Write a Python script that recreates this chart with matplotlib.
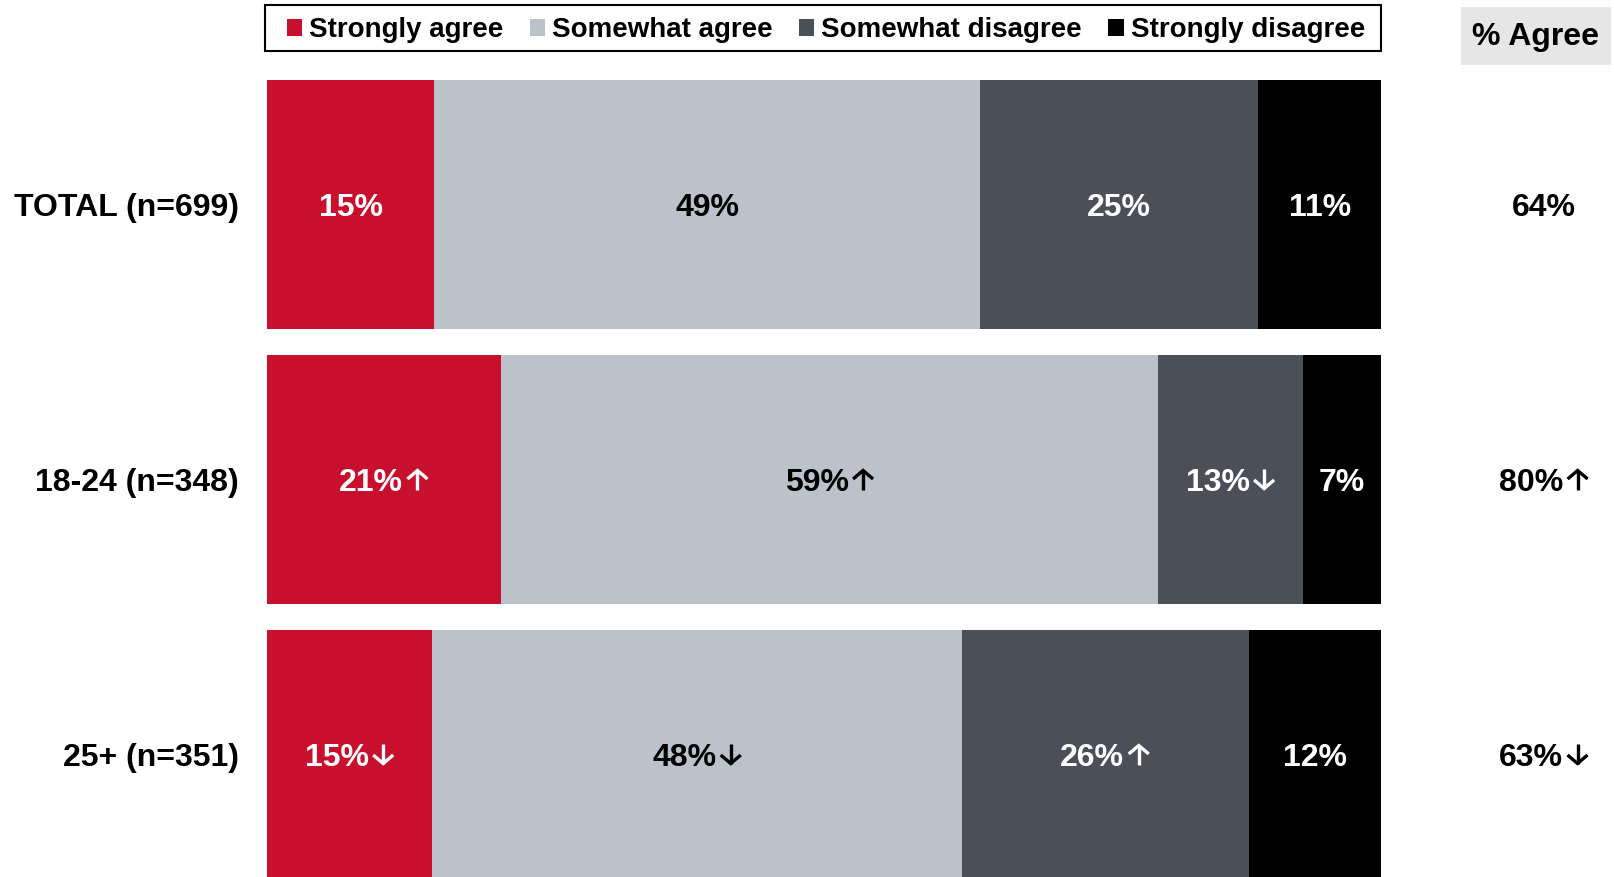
import numpy as np
import matplotlib.pyplot as plt
from matplotlib.lines import Line2D
from matplotlib.patches import Patch, Rectangle
from matplotlib.transforms import IdentityTransform, blended_transform_factory

plt.rcParams["font.family"] = ["Liberation Sans", "DejaVu Sans"]
plt.rcParams["font.weight"] = "bold"

# Survey results, in percent
groups = ["TOTAL (n=699)", "18-24 (n=348)", "25+ (n=351)"]
series = ["Strongly agree", "Somewhat agree", "Somewhat disagree", "Strongly disagree"]
strongly_agree = [15, 21, 15]
somewhat_agree = [49, 59, 48]
somewhat_disagree = [25, 13, 26]
strongly_disagree = [11, 7, 12]
agree_total = [64, 80, 63]

# significance vs the other group: +1 up arrow, -1 down arrow, 0 none
strongly_agree_sig = [0, 1, -1]
somewhat_agree_sig = [0, 1, -1]
somewhat_disagree_sig = [0, -1, 1]
strongly_disagree_sig = [0, 0, 0]
agree_sig = [0, 1, -1]

colors = ["#C8102E", "#BBC2C9", "#4B4F57", "#000000"]
text_colors = ["white", "black", "white", "white"]
LABEL_SIZE = 23

W, H = 1614, 877
fig = plt.figure(figsize=(W / 100, H / 100), dpi=100)
ax = fig.add_axes([267 / W, 0, (1381 - 267) / W, 1])
renderer = fig.canvas.get_renderer()

ARROW_W, ARROW_H, ARROW_GAP = 23, 21, 3  # pixels


def draw_arrow(cx, cy, direction, color):
    """Open-headed arrow drawn in pixel coordinates."""
    tip = cy + direction * ARROW_H / 2
    tail = cy - direction * ARROW_H / 2
    back = tip - direction * ARROW_W / 2
    kw = dict(transform=IdentityTransform(), color=color, linewidth=2.4,
              solid_joinstyle="miter", solid_capstyle="butt", clip_on=False)
    fig.add_artist(Line2D([cx, cx], [tail, tip - direction * 1.5], **kw))
    fig.add_artist(Line2D([cx - ARROW_W / 2 + 1.5, cx, cx + ARROW_W / 2 - 1.5],
                          [back + direction * 1.5, tip - direction * 1.5, back + direction * 1.5], **kw))


def value_label(x, y, text, sig, color, transform):
    """Number label centred on (x, y), followed by an optional arrow."""
    t = ax.text(x, y, text, transform=transform, ha="center", va="center_baseline",
                fontsize=LABEL_SIZE, fontweight="bold", color=color, clip_on=False)
    if sig == 0:
        return
    wn = t.get_window_extent(renderer).width
    px, py = transform.transform((x, y))
    total = wn + ARROW_GAP + ARROW_W
    x0 = px - total / 2
    t.set_transform(IdentityTransform())
    t.set_position((x0, py))
    t.set_ha("left")
    draw_arrow(x0 + wn + ARROW_GAP + ARROW_W / 2, py, sig, color)


values = np.array([strongly_agree, somewhat_agree, somewhat_disagree, strongly_disagree], dtype=float)
sigs = [strongly_agree_sig, somewhat_agree_sig, somewhat_disagree_sig, strongly_disagree_sig]
shares = values / values.sum(axis=0)

y = np.arange(len(groups))
ax.set_xlim(0, 1)
ax.set_ylim((H - 204.5) / 275, -204.5 / 275)
ax.axis("off")

left = np.zeros(len(groups))
for i in range(len(series)):
    ax.barh(y, shares[i], left=left, height=0.905, color=colors[i], linewidth=0)
    for j in range(len(groups)):
        value_label(left[j] + shares[i][j] / 2, y[j], f"{int(values[i][j])}%", sigs[i][j],
                    text_colors[i], ax.transData)
    left += shares[i]

# group labels on the left and % agree on the right
trans = blended_transform_factory(fig.transFigure, ax.transData)
for j, g in enumerate(groups):
    ax.text(239 / W, y[j], g, transform=trans, ha="right", va="center_baseline",
            fontsize=23, fontweight="bold", clip_on=False)
    value_label(1544 / W, y[j], f"{agree_total[j]}%", agree_sig[j], "black", trans)

fig.patches.append(Rectangle((1461 / W, 1 - 65 / H), 150 / W, 58 / H,
                             transform=fig.transFigure, facecolor="#E6E6E6", edgecolor="none"))
fig.text(1536 / W, 1 - 37 / H, "% Agree", ha="center", va="center", fontsize=23, fontweight="bold")

# legend with a separately drawn frame
fig.patches.append(Rectangle((265 / W, 1 - 51 / H), 1116 / W, 46 / H, transform=fig.transFigure,
                             facecolor="none", edgecolor="black", linewidth=1.5))
handles = [Patch(facecolor=c, edgecolor="none") for c in colors]
fig.legend(handles, series, loc="center", ncol=4, frameon=False,
           bbox_to_anchor=(826 / W, 1 - 30 / H),
           prop={"size": 20, "weight": "bold"}, handlelength=0.55, handleheight=0.55,
           handletextpad=0.25, columnspacing=0.95, borderaxespad=0)

fig.savefig("out.png", dpi=100)
